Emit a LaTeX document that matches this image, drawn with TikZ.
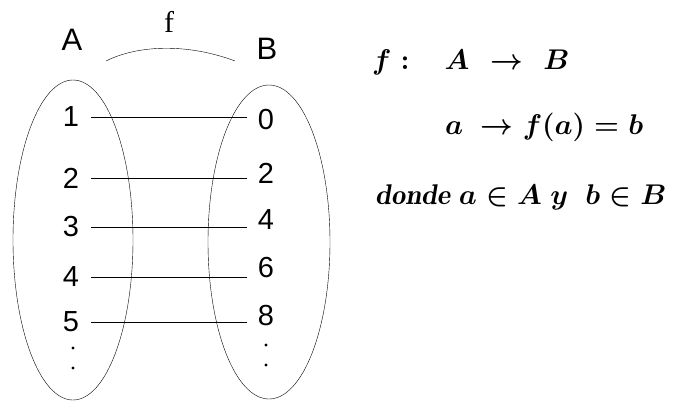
\RequirePackage{fix-cm}
\documentclass[tikz,border=0pt]{standalone}
\usepackage{fontspec}
\usepackage{amsmath}
\newfontfamily\arialfont{Liberation Sans}
\newfontfamily\timesfont{Liberation Serif}
\tikzset{
    elem/.style={font=\arialfont\fontsize{29}{34}\selectfont, inner sep=5pt},
    setname/.style={font=\arialfont\fontsize{31}{36}\selectfont, inner sep=0pt},
    rule/.style={font=\boldmath\fontsize{28.5}{34}\selectfont, anchor=west, inner sep=0pt}
}
\begin{document}
\begin{tikzpicture}[x=1pt, y=-1pt]
    \useasboundingbox (0,0) rectangle (681,400);
% sets
    \draw (73,240) ellipse [x radius=60, y radius=160];
    \draw (269,242) ellipse [x radius=61, y radius=157];
    \node[setname] (A) at (72,40) {A};
    \node[setname] (B) at (267,49) {B};
    \foreach \y/\v in {117/1,178/2,227/3,277/4,322/5}{
        \node[elem] (l\v) at (71,\y) {\v};
    }
    \foreach \y/\v in {120/0,173/2,220/4,268/6,316/8}{
        \node[elem] (r\v) at (266,\y) {\v};
    }
    \foreach \y in {348,368}{
        \fill (73,\y) circle (1.6);
        \fill (266,\y-3) circle (1.6);
    }
% function
    \node[font=\timesfont\fontsize{30}{34}\selectfont, inner sep=0pt] (f) at (169,22) {f};
    \draw (106,61) .. controls (140,44) and (190,44) .. (235,61);
    \foreach \a/\b in {1/0,2/2,3/4,4/6,5/8}{
        \draw ([xshift=7pt]l\a.east) -- ([xshift=-6pt]l\a.east -| r\b.west);
    }
% definition
    \node[rule] (map) at (372,62) {$f:\hspace{26pt}A\hspace{12pt}\to\hspace{11pt}B$};
    \node[rule] (rule) at (445,127) {$a\ \to f(a)=b$};
    \node[rule] (where) at (375,197) {$\mathit{donde}\ a\in A\ y\ \ b\in B$};
\end{tikzpicture}
\end{document}
